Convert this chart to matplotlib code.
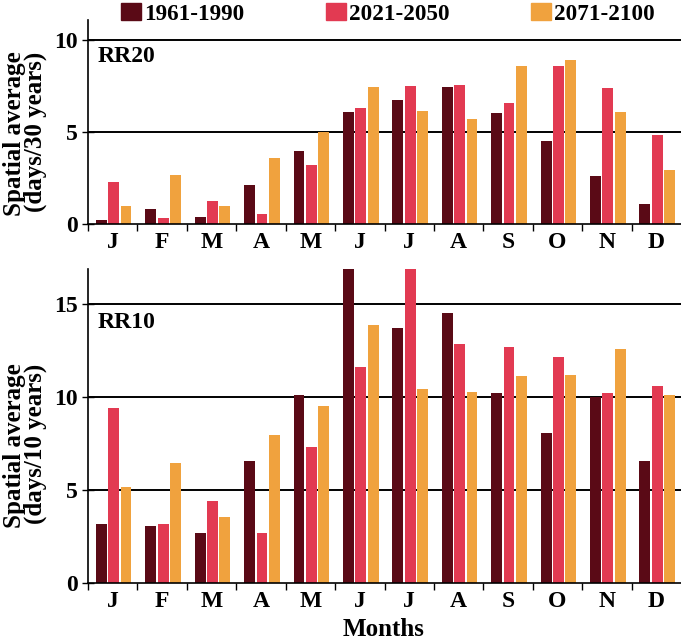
import numpy as np
import matplotlib.pyplot as plt
from matplotlib.patches import Patch

plt.rcParams['font.family'] = ['Liberation Serif', 'DejaVu Serif']
plt.rcParams['font.weight'] = 'bold'

months = ['J', 'F', 'M', 'A', 'M', 'J', 'J', 'A', 'S', 'O', 'N', 'D']
periods = ['1961-1990', '2021-2050', '2071-2100']
colors = ['#5a0a16', '#e23a52', '#f0a23e']

# RR20: days with precipitation >= 20 mm per 30 years
rr20_1961 = [0.22, 0.81, 0.40, 2.12, 3.96, 6.08, 6.71, 7.41, 6.00, 4.48, 2.60, 1.08]
rr20_2021 = [2.26, 0.31, 1.25, 0.56, 3.22, 6.31, 7.49, 7.56, 6.55, 8.57, 7.36, 4.81]
rr20_2071 = [0.99, 2.67, 0.99, 3.60, 5.00, 7.41, 6.15, 5.68, 8.57, 8.90, 6.09, 2.93]

# RR10: days with precipitation >= 10 mm per 10 years
rr10_1961 = [3.15, 3.08, 2.67, 6.54, 10.12, 17.5, 13.74, 14.51, 10.21, 8.09, 9.99, 6.54]
rr10_2021 = [9.44, 3.15, 4.43, 2.67, 7.31, 11.62, 17.5, 12.88, 12.71, 12.16, 10.21, 10.62]
rr10_2071 = [5.19, 6.45, 3.57, 7.94, 9.51, 13.88, 10.46, 10.28, 11.13, 11.22, 12.57, 10.14]

fig = plt.figure(figsize=(6.81, 6.42), dpi=100)
ax1 = fig.add_axes([88 / 681, 1 - 224 / 642, 1 - 88 / 681, 204 / 642])
ax2 = fig.add_axes([88 / 681, 1 - 583 / 642, 1 - 88 / 681, 314 / 642])

x = np.arange(len(months))
offsets = [0.27, 0.52, 0.77]
width = 0.22


def draw_panel(ax, series, ylim, yticks, grid, tag, tag_y):
    for s, off, c in zip(series, offsets, colors):
        ax.bar(x + off, s, width=width, color=c, zorder=2)
    for g in grid:
        ax.axhline(g, color='black', lw=1.4, zorder=1)
    ax.set_xlim(0, 12)
    ax.set_ylim(*ylim)
    ax.set_yticks(yticks)
    ax.set_xticks(np.arange(12))
    ax.set_xticklabels([])
    ax.set_xticks(x + 0.5, minor=True)
    ax.set_xticklabels(months, minor=True)
    ax.tick_params(axis='x', which='major', direction='out', length=5,
                   width=1.0)
    ax.tick_params(axis='x', which='minor', length=0, pad=6, labelsize=17)
    ax.tick_params(axis='y', direction='inout', length=9, width=1.0,
                   pad=3, labelsize=17)
    for side in ['top', 'right']:
        ax.spines[side].set_visible(False)
    for side in ['left', 'bottom']:
        ax.spines[side].set_linewidth(1.2)
    ax.text(0.2, tag_y, tag, fontsize=17, fontweight='bold',
            va='center', ha='left')


draw_panel(ax1, [rr20_1961, rr20_2021, rr20_2071], (0, 11.07), [0, 5, 10],
           [5, 10], 'RR20', 9.1)
draw_panel(ax2, [rr10_1961, rr10_2021, rr10_2071], (0, 16.9), [0, 5, 10, 15],
           [5, 10, 15], 'RR10', 14.0)

# y-axis titles, lines aligned at their top end
fig.text(25 / 681, 1 - 134 / 642, 'Spatial average\n(days/30 years)',
         rotation=90, ha='center', va='center', multialignment='right',
         linespacing=0.82, fontsize=18, fontweight='bold')
fig.text(25 / 681, 1 - 446 / 642, 'Spatial average\n(days/10 years)',
         rotation=90, ha='center', va='center', multialignment='right',
         linespacing=0.82, fontsize=18, fontweight='bold')

fig.text(384 / 681, 1 - 630 / 642, 'Months', ha='center', va='center',
         fontsize=18, fontweight='bold')

handles = [Patch(color=c) for c in colors]
fig.legend(handles, periods, loc='center', ncol=3, frameon=False,
           bbox_to_anchor=(388 / 681, 1 - 14 / 642), fontsize=16.7,
           handlelength=0.85, handleheight=0.7, handletextpad=0.15,
           columnspacing=3.5, borderpad=0, borderaxespad=0)

fig.savefig('out.png', dpi=100)
